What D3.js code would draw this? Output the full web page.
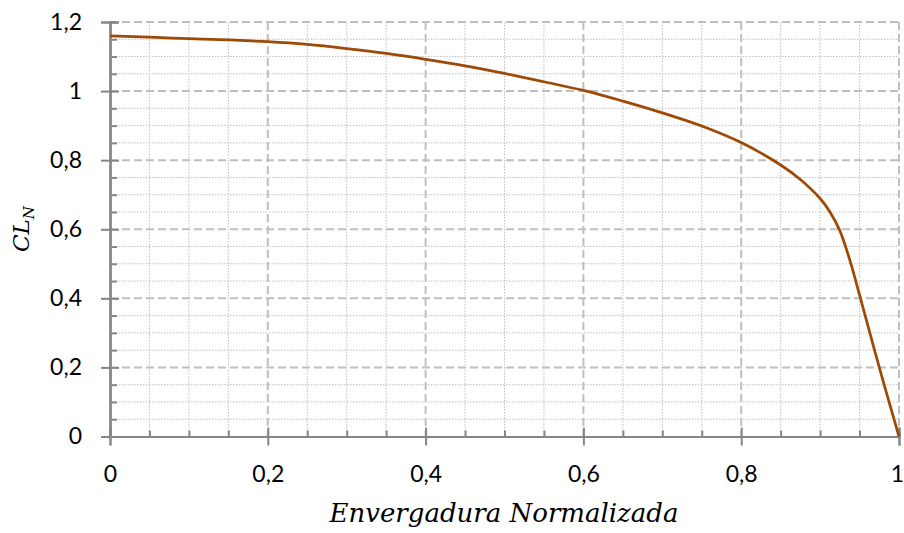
<!DOCTYPE html>
<html>
<head>
<meta charset="utf-8">
<script src="https://cdn.jsdelivr.net/npm/d3@7"></script>
<style>
  html, body { margin: 0; padding: 0; background: #fff; }
  svg { display: block; }
</style>
</head>
<body>
<svg id="chart" width="904" height="533"></svg>
<script>
// Spanwise lift coefficient distribution
const spanPos = [0, 0.05, 0.1, 0.15, 0.2, 0.25, 0.3, 0.35, 0.4, 0.45, 0.5, 0.55, 0.6,
                 0.65, 0.7, 0.75, 0.8, 0.85, 0.875, 0.9, 0.9125, 0.925, 0.9375, 0.95, 0.975, 1.0];
const clValues = [1.16, 1.156, 1.152, 1.148, 1.143, 1.135, 1.123, 1.109, 1.092, 1.073, 1.051, 1.027, 1.002,
                  0.971, 0.937, 0.899, 0.851, 0.786, 0.744, 0.689, 0.65, 0.596, 0.512, 0.41, 0.2, 0];

const xTickValues = [0, 0.2, 0.4, 0.6, 0.8, 1];
const xTickLabels = ["0", "0,2", "0,4", "0,6", "0,8", "1"];
const yTickValues = [0, 0.2, 0.4, 0.6, 0.8, 1, 1.2];
const yTickLabels = ["0", "0,2", "0,4", "0,6", "0,8", "1", "1,2"];
const minorStep = 0.05;

const svg = d3.select("#chart");
const plotLeft = 110, plotRight = 899, plotTop = 22, plotBottom = 436.5;

const x = d3.scaleLinear().domain([0, 1]).range([plotLeft, plotRight]);
const y = d3.scaleLinear().domain([0, 1.2]).range([plotBottom, plotTop]);

const isMajor = v => Math.abs(v / 0.2 - Math.round(v / 0.2)) < 1e-6;
const xMinor = d3.range(0, 1 + 1e-9, minorStep).filter(v => !isMajor(v));
const yMinor = d3.range(0, 1.2 + 1e-9, minorStep).filter(v => !isMajor(v));

const gridColor = "#bfbfbf";
const axisColor = "#868686";
const labelFont = "Lato, 'Open Sans', sans-serif";

// minor dotted grid
const grid = svg.append("g");
grid.selectAll("line.vminor").data(xMinor).join("line")
  .attr("x1", d => x(d)).attr("x2", d => x(d))
  .attr("y1", plotTop).attr("y2", plotBottom)
  .attr("stroke", gridColor).attr("stroke-width", 1).attr("stroke-dasharray", "1.5,1.5");
grid.selectAll("line.hminor").data(yMinor).join("line")
  .attr("x1", plotLeft).attr("x2", plotRight)
  .attr("y1", d => y(d)).attr("y2", d => y(d))
  .attr("stroke", gridColor).attr("stroke-width", 1).attr("stroke-dasharray", "1.5,1.5");

// major dashed grid
grid.selectAll("line.vmajor").data(xTickValues.filter(v => v > 0)).join("line")
  .attr("x1", d => x(d)).attr("x2", d => x(d))
  .attr("y1", plotTop).attr("y2", plotBottom)
  .attr("stroke", gridColor).attr("stroke-width", 2).attr("stroke-dasharray", "8,4");
grid.selectAll("line.hmajor").data(yTickValues.filter(v => v > 0)).join("line")
  .attr("x1", plotLeft).attr("x2", plotRight)
  .attr("y1", d => y(d)).attr("y2", d => y(d))
  .attr("stroke", gridColor).attr("stroke-width", 2).attr("stroke-dasharray", "8,4");

function styleAxis(g) {
  g.select(".domain").attr("stroke", axisColor).attr("stroke-width", 2);
  g.selectAll(".tick line").attr("stroke", axisColor).attr("stroke-width", 2);
  g.selectAll(".tick text").attr("fill", "#000").style("font-family", labelFont).style("font-size", "23px");
}

// left axis: outer ticks with labels, inner major and minor ticks
svg.append("g").attr("transform", `translate(${plotLeft},0)`)
  .call(d3.axisLeft(y).tickValues(yTickValues).tickSize(9).tickPadding(19)
    .tickFormat((d, i) => yTickLabels[i]))
  .call(styleAxis);
svg.append("g").attr("transform", `translate(${plotLeft},0)`)
  .call(d3.axisRight(y).tickValues(yTickValues).tickSize(9).tickFormat(""))
  .call(styleAxis);
svg.append("g").attr("transform", `translate(${plotLeft},0)`)
  .call(d3.axisRight(y).tickValues(yMinor).tickSize(7).tickFormat(""))
  .call(styleAxis);

// bottom axis
svg.append("g").attr("transform", `translate(0,${plotBottom})`)
  .call(d3.axisBottom(x).tickValues(xTickValues).tickSize(9).tickPadding(20)
    .tickFormat((d, i) => xTickLabels[i]))
  .call(styleAxis)
  .call(g => g.selectAll(".tick:last-of-type text").attr("dx", -2));
svg.append("g").attr("transform", `translate(0,${plotBottom})`)
  .call(d3.axisTop(x).tickValues(xTickValues).tickSize(9).tickFormat(""))
  .call(styleAxis);
svg.append("g").attr("transform", `translate(0,${plotBottom})`)
  .call(d3.axisTop(x).tickValues(xMinor).tickSize(6).tickFormat(""))
  .call(styleAxis);

// curve
const line = d3.line()
  .x((d, i) => x(spanPos[i]))
  .y(d => y(d))
  .curve(d3.curveCatmullRom.alpha(0.5));
svg.append("path")
  .datum(clValues)
  .attr("d", line)
  .attr("fill", "none")
  .attr("stroke", "#9e4a06")
  .attr("stroke-width", 2.75)
  .attr("stroke-linejoin", "round");

// axis titles
const titleFont = "'DejaVu Serif', 'Liberation Serif', serif";
svg.append("text")
  .attr("x", 504)
  .attr("y", 522)
  .attr("text-anchor", "middle")
  .style("font-family", titleFont)
  .style("font-style", "italic")
  .style("font-size", "26px")
  .text("Envergadura Normalizada");

const yTitle = svg.append("text")
  .attr("transform", "translate(29,229) rotate(-90)")
  .attr("text-anchor", "middle")
  .style("font-family", titleFont)
  .style("font-style", "italic")
  .style("font-size", "23px");
yTitle.append("tspan").text("CL");
yTitle.append("tspan").attr("dy", 5).style("font-size", "15px").text("N");
</script>
</body>
</html>
